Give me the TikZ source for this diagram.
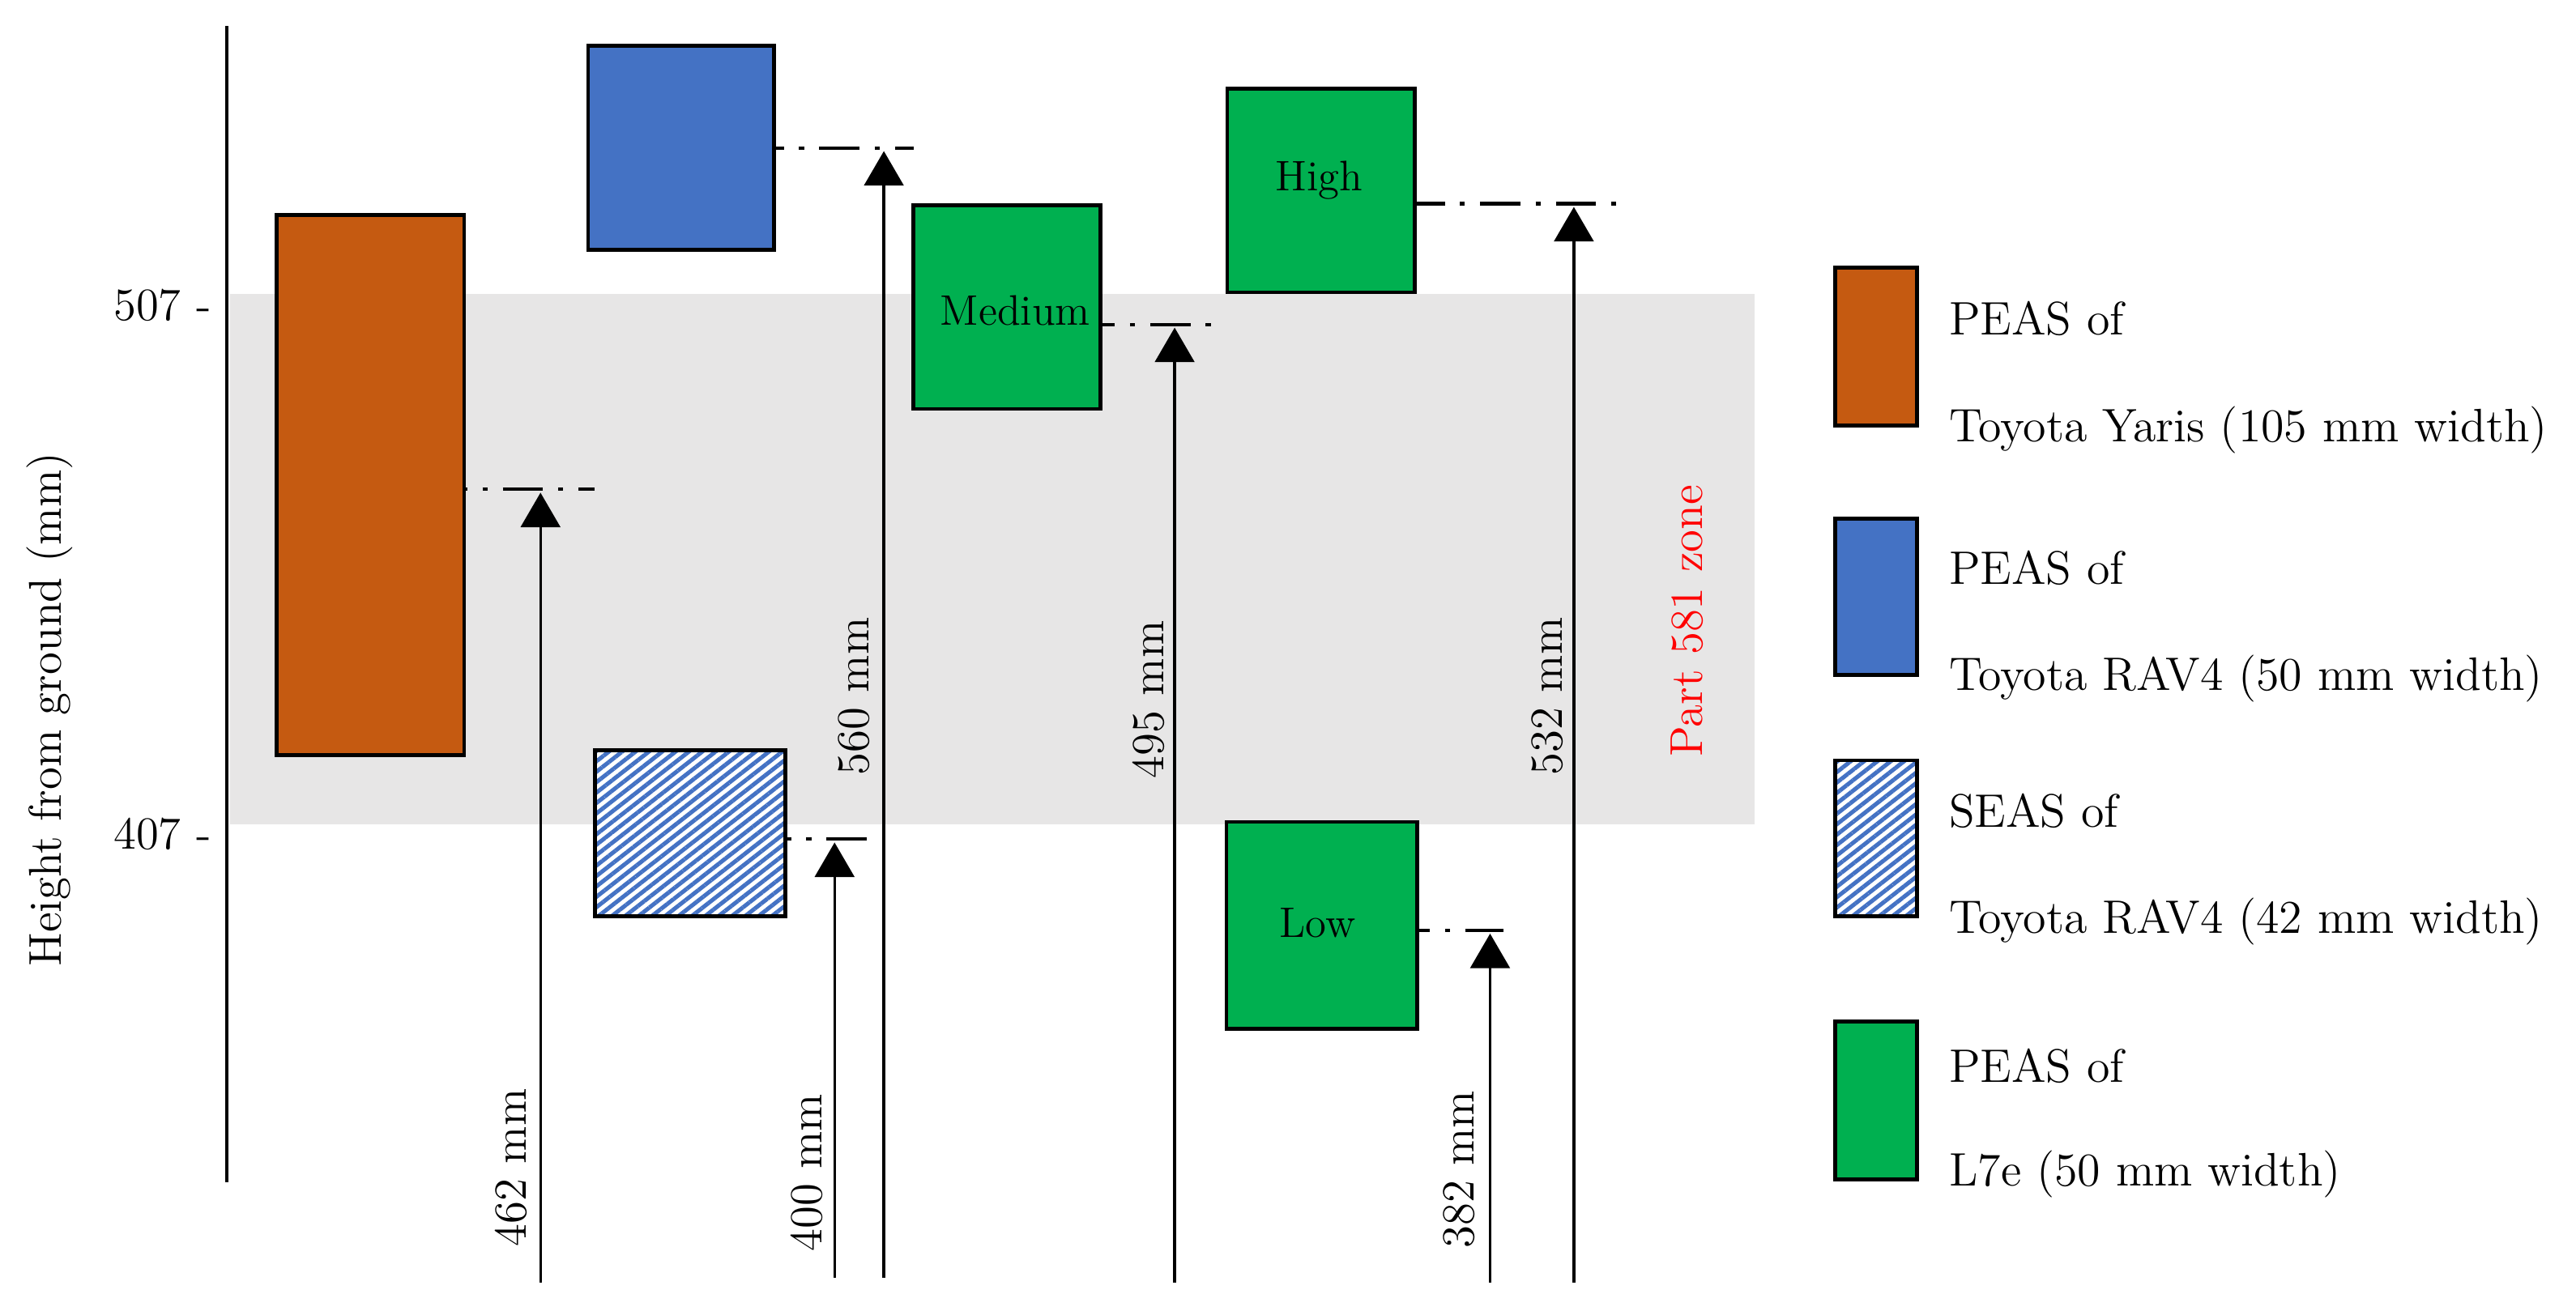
\documentclass[tikz,border=0pt]{standalone}
\usetikzlibrary{arrows.meta,patterns.meta}
\definecolor{yarisC}{HTML}{C55A11}
\definecolor{ravC}{HTML}{4472C4}
\definecolor{lseC}{HTML}{00B050}
\definecolor{zoneC}{HTML}{E7E6E6}
\definecolor{redC}{HTML}{FF0000}
\begin{document}
\begin{tikzpicture}[x=0.5pt,y=-0.5pt,
  every node/.style={font=\fontsize{14}{17}\selectfont, inner sep=0pt},
  box/.style={draw=black, line width=1.2pt, inner sep=0pt, font=\fontsize{13}{15}\selectfont},
  hatch/.style={preaction={fill=white}, pattern={Lines[angle=38,distance=2.5pt,line width=1.25pt]}, pattern color=ravC},
  dashdot/.style={line width=1pt, dash pattern=on 12.3pt off 4.6pt on 1.55pt off 4.6pt},
  meas/.style={line width=0.8pt, -{Triangle[width=12pt,length=10.5pt]}},
  vlab/.style={rotate=90},
  inlab/.style={font=\fontsize{13}{15}\selectfont},
  leg/.style={anchor=west, font=\fontsize{14.3}{17}\selectfont}]
\useasboundingbox (0,0) rectangle (1568,798);

% zone band
\fill[zoneC] (140,179) rectangle (1068,502);
\node[vlab, text=redC] (zone) at (1027,378) {Part 581 zone};

% axis
\coordinate (axtop) at (138,16);
\coordinate (axbot) at (138,720);
\draw[line width=1pt] (axtop) -- (axbot);
\node[anchor=east] (t507) at (129,186) {507 -};
\node[anchor=east] (t407) at (129,508) {407 -};
\node[vlab] (ylab) at (30,432) {Height from ground (mm)};

% boxes
\node[box, fill=yarisC, minimum width=57pt, minimum height=164.5pt] (yaris) at (225.5,295.5) {};
\node[box, fill=ravC, minimum width=56.5pt, minimum height=62pt] (rav) at (414.5,90) {};
\node[box, hatch, minimum width=58pt, minimum height=50.5pt] (seas) at (420,507.5) {};
\node[box, fill=lseC, minimum width=57pt, minimum height=62pt] (med) at (613,187) {};
\node[box, fill=lseC, minimum width=57pt, minimum height=62pt] (high) at (804,116) {};
\node[box, fill=lseC, minimum width=58pt, minimum height=63pt] (low) at (804.5,563.5) {};
\node[inlab] (medt) at (618,189) {Medium};
\node[inlab] (hight) at (803,110) {High};
\node[inlab] (lowt) at (802,562) {Low};

% measurement points
\coordinate (e1) at (362,298);  \coordinate (a1) at (329,300);  \coordinate (b1) at (329,781);
\coordinate (e2) at (556,90);   \coordinate (a2) at (538,92);   \coordinate (b2) at (538,778);
\coordinate (e3) at (538,511);  \coordinate (a3) at (508,513);  \coordinate (b3) at (508,778);
\coordinate (e4) at (738,197.5);\coordinate (a4) at (715,199.5);\coordinate (b4) at (715,781);
\coordinate (e5) at (985,124);  \coordinate (a5) at (958,126);  \coordinate (b5) at (958,781);
\coordinate (e6) at (915,566.5);\coordinate (a6) at (907,568.5);\coordinate (b6) at (907,781);

% dash-dot level lines
\draw[dashdot, dash phase=11.9pt] (yaris.east |- e1) -- (e1);
\draw[dashdot, dash phase=9.8pt] (rav.east |- e2) -- (e2);
\draw[dashdot, dash phase=11.1pt] (seas.east |- e3) -- (e3);
\draw[dashdot, dash phase=8.6pt] (med.east |- e4) -- (e4);
\draw[dashdot, dash phase=3.7pt] (high.east |- e5) -- (e5);
\draw[dashdot, dash phase=9.0pt] (low.east |- e6) -- (e6);

% arrows
\draw[meas] (b1) -- (a1);
\draw[meas] (b2) -- (a2);
\draw[meas] (b3) -- (a3);
\draw[meas] (b4) -- (a4);
\draw[meas] (b5) -- (a5);
\draw[meas] (b6) -- (a6);

% arrow labels
\node[vlab] (l1) at (311,711) {462 mm};
\node[vlab] (l2) at (520,424) {560 mm};
\node[vlab] (l3) at (491,714) {400 mm};
\node[vlab] (l4) at (699,426) {495 mm};
\node[vlab] (l5) at (942,424) {532 mm};
\node[vlab] (l6) at (888,712) {382 mm};

% legend
\node[box, fill=yarisC, minimum width=25pt, minimum height=48pt] (k1) at (1142,211) {};
\node[box, fill=ravC, minimum width=25pt, minimum height=47.5pt] (k2) at (1142,363.5) {};
\node[box, hatch, minimum width=25pt, minimum height=47.5pt] (k3) at (1142,510.5) {};
\node[box, fill=lseC, minimum width=25pt, minimum height=48pt] (k4) at (1142,670) {};

\node[leg] (k1a) at (1186,194) {PEAS of};
\node[leg] (k1b) at (1186,262) {Toyota Yaris (105 mm width)};
\node[leg] (k2a) at (1186,346) {PEAS of};
\node[leg] (k2b) at (1186,413) {Toyota RAV4 (50 mm width)};
\node[leg] (k3a) at (1186,494) {SEAS of};
\node[leg] (k3b) at (1186,561) {Toyota RAV4 (42 mm width)};
\node[leg] (k4a) at (1186,649) {PEAS of};
\node[leg] (k4b) at (1186,715) {L7e (50 mm width)};
\end{tikzpicture}
\end{document}
